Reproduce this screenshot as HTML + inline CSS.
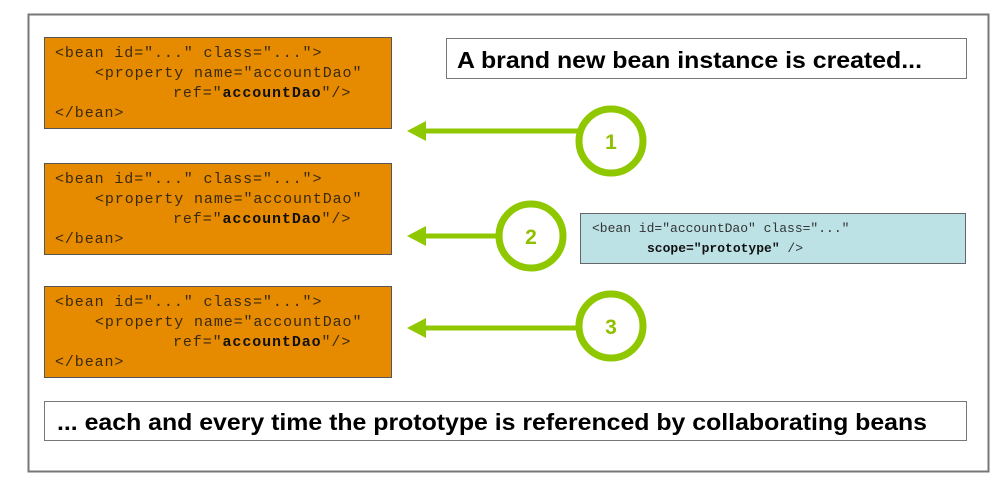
<!DOCTYPE html>
<html><head><meta charset="utf-8"><style>
html,body{margin:0;padding:0;background:#fff;}
svg{display:block}
.c{font-family:"Liberation Mono",monospace;font-size:15px;letter-spacing:0.9px;fill:#3a2a10}
.s{font-family:"Liberation Mono",monospace;font-size:13px;fill:#333}
.b{font-weight:bold;fill:#111}
.h{font-family:"Liberation Sans",sans-serif;font-weight:bold;font-size:23px;fill:#000}
.n{font-family:"Liberation Sans",sans-serif;font-weight:bold;font-size:21px;fill:#8fc000}
</style></head><body>
<svg width="1002" height="485" viewBox="0 0 1002 485">
<rect x="28.5" y="14.5" width="960" height="457" fill="#fff" stroke="#777" stroke-width="2"/>

<g>
<rect x="44.5" y="37.5" width="347" height="91" fill="#e68a00" stroke="#555"/>
<text class="c" x="55" y="57">&lt;bean id="..." class="..."&gt;</text>
<text class="c" x="95" y="77">&lt;property name="accountDao"</text>
<text class="c" x="173" y="97">ref="<tspan class="b">accountDao</tspan>"/&gt;</text>
<text class="c" x="55" y="117">&lt;/bean&gt;</text>
</g>
<g transform="translate(0,126)">
<rect x="44.5" y="37.5" width="347" height="91" fill="#e68a00" stroke="#555"/>
<text class="c" x="55" y="57">&lt;bean id="..." class="..."&gt;</text>
<text class="c" x="95" y="77">&lt;property name="accountDao"</text>
<text class="c" x="173" y="97">ref="<tspan class="b">accountDao</tspan>"/&gt;</text>
<text class="c" x="55" y="117">&lt;/bean&gt;</text>
</g>
<g transform="translate(0,249)">
<rect x="44.5" y="37.5" width="347" height="91" fill="#e68a00" stroke="#555"/>
<text class="c" x="55" y="57">&lt;bean id="..." class="..."&gt;</text>
<text class="c" x="95" y="77">&lt;property name="accountDao"</text>
<text class="c" x="173" y="97">ref="<tspan class="b">accountDao</tspan>"/&gt;</text>
<text class="c" x="55" y="117">&lt;/bean&gt;</text>
</g>

<rect x="446.5" y="38.5" width="520" height="40" fill="#fff" stroke="#777"/>
<text class="h" x="457" y="68" textLength="465" lengthAdjust="spacingAndGlyphs">A brand new bean instance is created...</text>

<rect x="580.5" y="213.5" width="385" height="50" fill="#bce2e6" stroke="#666"/>
<text class="s" x="592" y="232">&lt;bean id="accountDao" class="..."</text>
<text class="s" x="647" y="252"><tspan class="b">scope="prototype"</tspan> /&gt;</text>

<rect x="44.5" y="401.5" width="922" height="39" fill="#fff" stroke="#777"/>
<text class="h" x="57" y="430" textLength="870" lengthAdjust="spacingAndGlyphs">... each and every time the prototype is referenced by collaborating beans</text>

<g fill="#8fc800" stroke="none">
<rect x="420" y="128.5" width="160" height="5"/>
<polygon points="407,131 426,121 426,141"/>
<rect x="420" y="233.5" width="82" height="5"/>
<polygon points="407,236 426,226 426,246"/>
<rect x="420" y="325.5" width="160" height="5"/>
<polygon points="407,328 426,318 426,338"/>
</g>
<g fill="#fff" stroke="#8fc800" stroke-width="7">
<circle cx="611" cy="141" r="32"/>
<circle cx="531" cy="236" r="32"/>
<circle cx="611" cy="326" r="32"/>
</g>
<text class="n" x="611" y="149" text-anchor="middle">1</text>
<text class="n" x="531" y="244" text-anchor="middle">2</text>
<text class="n" x="611" y="334" text-anchor="middle">3</text>
</svg>
</body></html>
